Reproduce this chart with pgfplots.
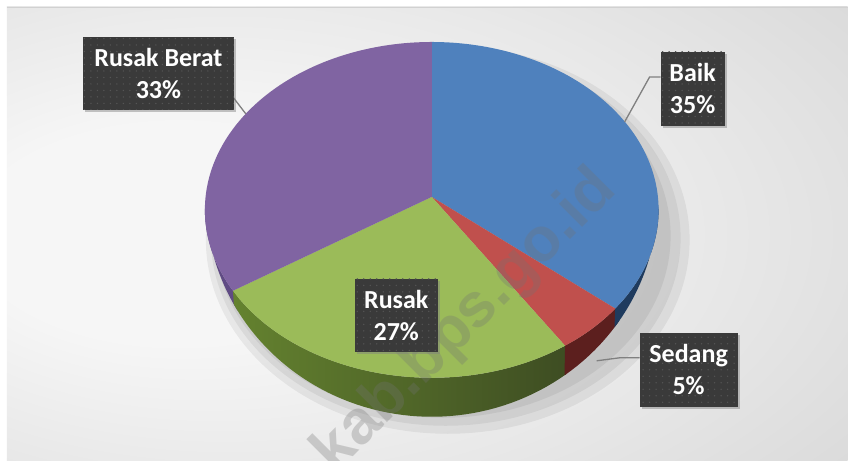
\documentclass[border=0pt]{standalone}
\usepackage{fontspec}
\setmainfont{Carlito}
\newfontfamily\wmfont{Liberation Sans}
\usepackage{pgfplots}
\pgfplotsset{compat=1.18}
\usepackage{pgfplotstable}
\usetikzlibrary{shadows,patterns}

\definecolor{cblue}{HTML}{4F81BD}
\definecolor{cred}{HTML}{C0504D}
\definecolor{cgreen}{HTML}{9BBB59}
\definecolor{cpurple}{HTML}{8064A2}
\definecolor{sblue}{HTML}{1F3B5E}
\definecolor{sred}{HTML}{5C1F1E}
\definecolor{sgreenL}{HTML}{64822F}
\definecolor{sgreenM}{HTML}{45592A}
\definecolor{sgreenR}{HTML}{3D4C22}
\definecolor{spurple}{HTML}{604B84}
\definecolor{boxc}{HTML}{3A3A3A}
\definecolor{boxdot}{HTML}{555555}
\definecolor{bgin}{HTML}{F6F6F6}
\definecolor{bgmid}{HTML}{E8E8E8}
\definecolor{bgout}{HTML}{BEBEBE}
\definecolor{leader}{HTML}{808080}

\pgfdeclarepatternformonly{sparsedots}{\pgfqpoint{-1pt}{-1pt}}{\pgfqpoint{1pt}{1pt}}{\pgfqpoint{6.5pt}{6.5pt}}{\pgfpathcircle{\pgfqpoint{0pt}{0pt}}{0.75pt}\pgfusepath{fill}}
\pgfdeclareradialshading{bgshade}{\pgfpoint{-18bp}{0bp}}{color(0bp)=(bgin); color(12bp)=(bgin); color(28bp)=(bgmid); color(70bp)=(bgout)}

\tikzset{tlbl/.style={fill=boxc,text=white,align=center,inner sep=0pt,
    font=\fontsize{26}{32}\selectfont\bfseries,
    drop shadow={shadow xshift=2.5pt,shadow yshift=-2.5pt,opacity=0.45},
    postaction={pattern=sparsedots,pattern color=boxdot}}}

\pgfplotstableread{
label value
Baik 35
Sedang 5
Rusak 27
RusakBerat 33
}\piedata

\begin{document}
\begin{tikzpicture}
\pgfplotstablegetelem{0}{value}\of\piedata \pgfmathsetmacro\vA{\pgfplotsretval}
\pgfplotstablegetelem{1}{value}\of\piedata \pgfmathsetmacro\vB{\pgfplotsretval}
\pgfplotstablegetelem{2}{value}\of\piedata \pgfmathsetmacro\vC{\pgfplotsretval}
\pgfplotstablegetelem{3}{value}\of\piedata \pgfmathsetmacro\vD{\pgfplotsretval}
\pgfmathsetmacro\aA{90}
\pgfmathsetmacro\aB{\aA-3.6*\vA}
\pgfmathsetmacro\aC{\aB-3.6*\vB}
\pgfmathsetmacro\aD{\aC-3.6*\vC}
\pgfmathsetmacro\aE{\aD-3.6*\vD}
% overlapping side limits (hidden under the next slice, avoids seams)
\pgfmathsetmacro\sBa{\aB+2.5}
\pgfmathsetmacro\sCa{\aC+2.5}
\pgfmathsetmacro\sDa{\aD+2.5}
\begin{axis}[width=848pt,height=461pt,scale only axis,
  xmin=0,xmax=848,ymin=0,ymax=461,y dir=reverse,hide axis,clip=false]
% background
\fill[white] (axis cs:0,0) rectangle (axis cs:848,461);
\shade[shading=bgshade] (axis cs:7,7) rectangle (axis cs:848,461);
\draw[black!18,line width=1pt] (axis cs:7,7.5) -- (axis cs:848,7.5);
% soft shadow of the pie
\fill[black,opacity=0.06] (axis cs:448,240) ellipse [x radius=242, y radius=194];
\fill[black,opacity=0.06] (axis cs:446,238) ellipse [x radius=235, y radius=188];
\fill[black,opacity=0.06] (axis cs:443,236) ellipse [x radius=228, y radius=182];
% sides (front part)
\addplot[draw=none,fill=spurple,domain=0:2,samples=101]
 ({x<=1 ? 432+227*cos(-180+(\sDa+180)*x) : 432+226*cos(\sDa-(\sDa+180)*(x-1))},
  {x<=1 ? 210-168*sin(-180+(\sDa+180)*x) : 200-217*sin(\sDa-(\sDa+180)*(x-1))}) -- cycle;
\addplot[draw=none,left color=sgreenL,middle color=sgreenM,right color=sgreenR,domain=0:2,samples=101]
 ({x<=1 ? 432+227*cos(\aD+(\sCa-\aD)*x) : 432+226*cos(\sCa-(\sCa-\aD)*(x-1))},
  {x<=1 ? 210-168*sin(\aD+(\sCa-\aD)*x) : 200-217*sin(\sCa-(\sCa-\aD)*(x-1))}) -- cycle;
\addplot[draw=none,fill=sred,domain=0:2,samples=101]
 ({x<=1 ? 432+227*cos(\aC+(\sBa-\aC)*x) : 432+226*cos(\sBa-(\sBa-\aC)*(x-1))},
  {x<=1 ? 210-168*sin(\aC+(\sBa-\aC)*x) : 200-217*sin(\sBa-(\sBa-\aC)*(x-1))}) -- cycle;
\addplot[draw=none,fill=sblue,domain=0:2,samples=101]
 ({x<=1 ? 432+227*cos(\aB+(0-\aB)*x) : 432+226*cos(0-(0-\aB)*(x-1))},
  {x<=1 ? 210-168*sin(\aB+(0-\aB)*x) : 200-217*sin(0-(0-\aB)*(x-1))}) -- cycle;
% top faces
\addplot[draw=none,fill=cblue,domain=\aB:\aA,samples=100]
 ({432+227*cos(x)},{210-168*sin(x)}) -- (axis cs:432,197) -- cycle;
\addplot[draw=none,fill=cred,domain=\aC:\aB,samples=40]
 ({432+227*cos(x)},{210-168*sin(x)}) -- (axis cs:432,197) -- cycle;
\addplot[draw=none,fill=cgreen,domain=\aD:\aC,samples=100]
 ({432+227*cos(x)},{210-168*sin(x)}) -- (axis cs:432,197) -- cycle;
\addplot[draw=none,fill=cpurple,domain=\aE:\aD,samples=100]
 ({432+227*cos(x)},{210-168*sin(x)}) -- (axis cs:432,197) -- cycle;
% watermark
\begin{scope}
\clip (axis cs:7,7) rectangle (axis cs:848,461);
\node[rotate=45,text=black!55,opacity=0.3,font=\wmfont\fontsize{62}{62}\bfseries\selectfont]
  at (axis cs:466,322) {kab.bps.go.id};
\end{scope}
% leader lines
\draw[leader,line width=1.3pt] (axis cs:233,97) -- (axis cs:246,114);
\draw[leader,line width=1.3pt] (axis cs:661,77) -- (axis cs:650,77) -- (axis cs:625,122);
\draw[leader,line width=1.3pt] (axis cs:640,358) -- (axis cs:620,358) -- (axis cs:597,361);
% labels
\node[tlbl,minimum width=151pt,minimum height=73pt] at (axis cs:158.5,73.5) {Rusak Berat\\33\%};
\node[tlbl,minimum width=64pt,minimum height=74pt] at (axis cs:693,89) {Baik\\35\%};
\node[tlbl,minimum width=98pt,minimum height=74pt] at (axis cs:689,370) {Sedang\\5\%};
\node[tlbl,minimum width=83pt,minimum height=73pt] at (axis cs:396.5,315.5) {Rusak\\27\%};
\end{axis}
\end{tikzpicture}
\end{document}
